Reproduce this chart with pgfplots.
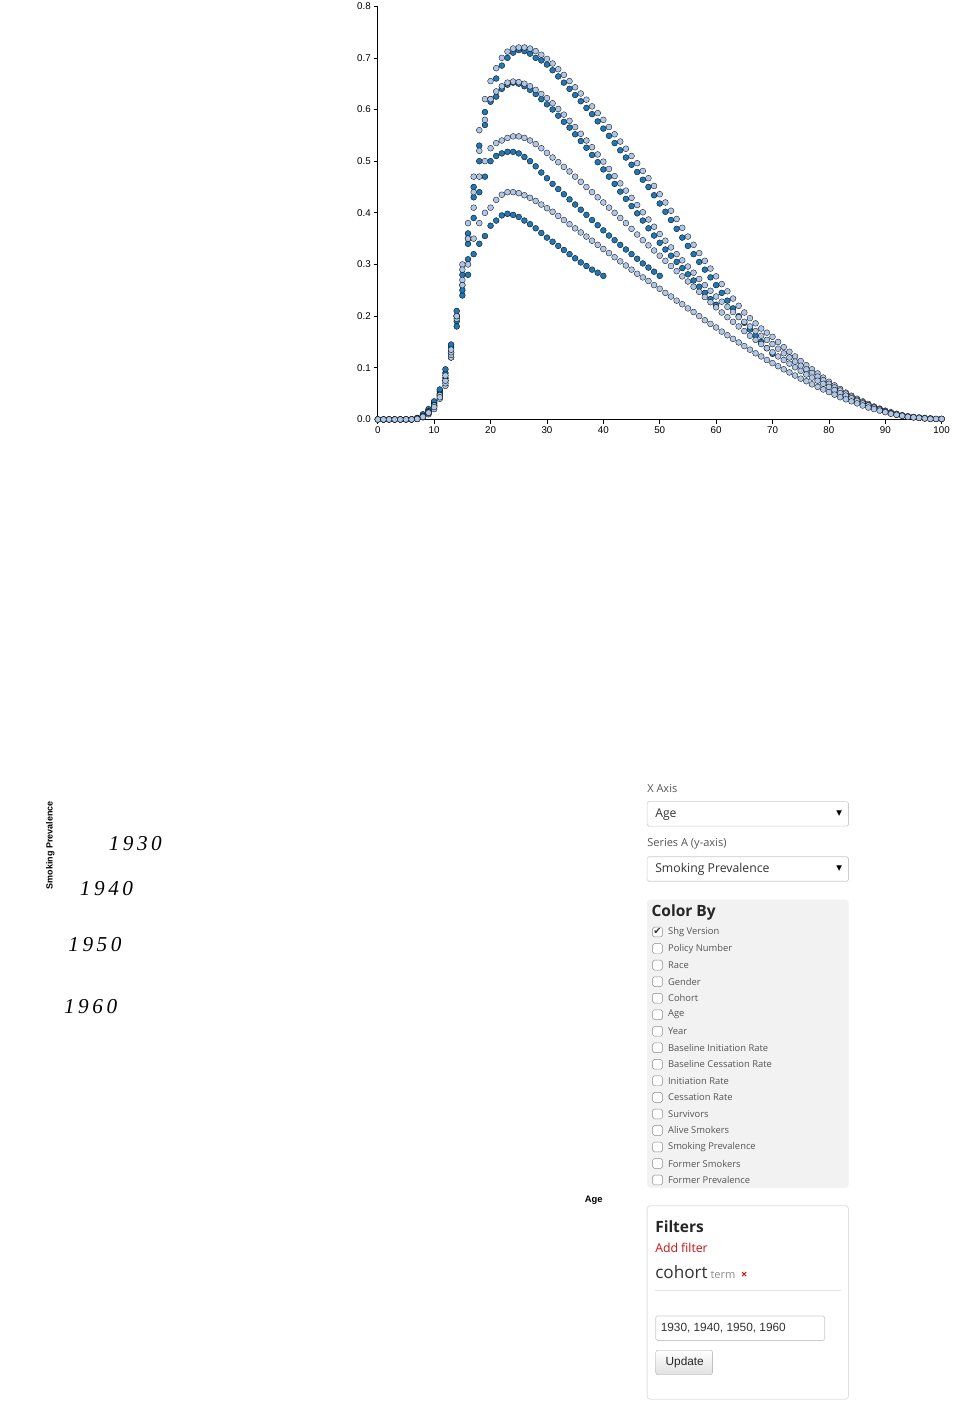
\documentclass[border=0pt]{standalone}
\usepackage{pgfplots}
\pgfplotsset{compat=1.18}
\usepackage{fontspec}
\setmainfont{Open Sans}
\newfontfamily\tickfont{Liberation Sans}
\newfontfamily\symfont{DejaVu Sans}
\newfontfamily\yearfont{Liberation Serif}
\definecolor{dk}{HTML}{1F77B4}
\definecolor{lt}{HTML}{AEC7E8}
\definecolor{txt}{HTML}{555555}
\definecolor{panel}{HTML}{F3F2F2}
\definecolor{bord}{HTML}{CCCCCC}
\definecolor{redc}{HTML}{CC1111}
\begin{document}
\begin{tikzpicture}[x=0.75pt,y=-0.75pt]
\path[fill=white] (0,0) rectangle (1409,1024);
\begin{axis}[at={(67,702)},anchor=origin,scale only axis,
  width=690.75pt,height=506.25pt,xmin=0,xmax=100,ymin=0,ymax=0.8,
  axis lines=left,axis line style={-,line width=1pt},clip=false,
  xtick={0,10,...,100},ytick={0,0.1,...,0.8},
  tick style={black,line width=0.8pt},tick align=outside,major tick length=5pt,
  yticklabel style={/pgf/number format/.cd,fixed,fixed zerofill,precision=1},
  ticklabel style={font=\tickfont\fontsize{12}{14}\selectfont},
  /pgf/number format/assume math mode=true,
  every axis plot/.append style={only marks,mark=*,mark size=3.6pt},
]
\addplot[mark options={draw=none,fill=dk}] table[row sep=\\]{x y\\ 0 0\\1 0\\2 0\\3 0\\4 0\\5 0\\6 0\\7 0.002\\8 0.006\\9 0.015\\10 0.03\\11 0.05\\12 0.08\\13 0.13\\14 0.19\\15 0.28\\16 0.36\\17 0.45\\18 0.53\\19 0.595\\20 0.62\\21 0.66\\22 0.685\\23 0.70\\24 0.71\\25 0.715\\26 0.713\\27 0.708\\28 0.70\\29 0.695\\30 0.687\\31 0.676\\32 0.664\\33 0.652\\34 0.640\\35 0.628\\36 0.616\\37 0.603\\38 0.591\\39 0.577\\40 0.563\\41 0.549\\42 0.535\\43 0.521\\44 0.507\\45 0.493\\46 0.479\\47 0.464\\48 0.450\\49 0.434\\50 0.418\\51 0.402\\52 0.386\\53 0.369\\54 0.352\\55 0.336\\56 0.320\\57 0.305\\58 0.290\\59 0.275\\60 0.260\\61 0.245\\62 0.230\\63 0.215\\64 0.200\\65 0.187\\66 0.174\\67 0.162\\68 0.150\\69 0.138\\70 0.127\\};
\addplot[mark options={draw=none,fill=dk}] table[row sep=\\]{x y\\ 0 0\\1 0\\2 0\\3 0\\4 0\\5 0\\6 0\\7 0.002\\8 0.008\\9 0.018\\10 0.033\\11 0.055\\12 0.09\\13 0.14\\14 0.20\\15 0.26\\16 0.34\\17 0.43\\18 0.50\\19 0.57\\20 0.615\\21 0.625\\22 0.64\\23 0.648\\24 0.652\\25 0.65\\26 0.645\\27 0.638\\28 0.630\\29 0.620\\30 0.610\\31 0.600\\32 0.588\\33 0.576\\34 0.565\\35 0.552\\36 0.539\\37 0.526\\38 0.512\\39 0.498\\40 0.484\\41 0.470\\42 0.456\\43 0.441\\44 0.427\\45 0.413\\46 0.399\\47 0.385\\48 0.370\\49 0.356\\50 0.342\\51 0.329\\52 0.317\\53 0.305\\54 0.293\\55 0.281\\56 0.269\\57 0.257\\58 0.245\\59 0.233\\60 0.222\\};
\addplot[mark options={draw=none,fill=dk}] table[row sep=\\]{x y\\ 0 0\\1 0\\2 0\\3 0\\4 0\\5 0\\6 0\\7 0.003\\8 0.01\\9 0.02\\10 0.035\\11 0.058\\12 0.097\\13 0.145\\14 0.21\\15 0.24\\16 0.31\\17 0.39\\18 0.44\\19 0.47\\20 0.50\\21 0.51\\22 0.515\\23 0.518\\24 0.518\\25 0.515\\26 0.508\\27 0.500\\28 0.490\\29 0.478\\30 0.467\\31 0.456\\32 0.446\\33 0.436\\34 0.426\\35 0.416\\36 0.406\\37 0.396\\38 0.386\\39 0.376\\40 0.366\\41 0.356\\42 0.347\\43 0.338\\44 0.329\\45 0.320\\46 0.311\\47 0.302\\48 0.294\\49 0.286\\50 0.278\\};
\addplot[mark options={draw=none,fill=dk}] table[row sep=\\]{x y\\ 0 0\\1 0\\2 0\\3 0\\4 0\\5 0\\6 0\\7 0.002\\8 0.007\\9 0.016\\10 0.028\\11 0.048\\12 0.075\\13 0.12\\14 0.18\\15 0.25\\16 0.28\\17 0.32\\18 0.34\\19 0.355\\20 0.375\\21 0.385\\22 0.395\\23 0.398\\24 0.396\\25 0.392\\26 0.385\\27 0.378\\28 0.370\\29 0.361\\30 0.352\\31 0.344\\32 0.336\\33 0.328\\34 0.320\\35 0.312\\36 0.304\\37 0.297\\38 0.290\\39 0.284\\40 0.278\\};
\addplot[mark options={draw=none,fill=lt}] table[row sep=\\]{x y\\ 0 0\\1 0\\2 0\\3 0\\4 0\\5 0\\6 0\\7 0.001\\8 0.004\\9 0.01\\10 0.02\\11 0.04\\12 0.065\\13 0.12\\14 0.20\\15 0.30\\16 0.38\\17 0.47\\18 0.56\\19 0.62\\20 0.655\\21 0.68\\22 0.70\\23 0.712\\24 0.718\\25 0.72\\26 0.72\\27 0.718\\28 0.713\\29 0.706\\30 0.698\\31 0.689\\32 0.678\\33 0.667\\34 0.655\\35 0.643\\36 0.631\\37 0.619\\38 0.606\\39 0.593\\40 0.580\\41 0.566\\42 0.552\\43 0.538\\44 0.524\\45 0.510\\46 0.496\\47 0.481\\48 0.467\\49 0.452\\50 0.436\\51 0.420\\52 0.404\\53 0.388\\54 0.371\\55 0.354\\56 0.338\\57 0.322\\58 0.307\\59 0.292\\60 0.277\\61 0.262\\62 0.248\\63 0.234\\64 0.220\\65 0.207\\66 0.196\\67 0.186\\68 0.176\\69 0.168\\70 0.160\\71 0.150\\72 0.140\\73 0.131\\74 0.122\\75 0.113\\76 0.105\\77 0.097\\78 0.089\\79 0.081\\80 0.073\\81 0.066\\82 0.059\\83 0.052\\84 0.046\\85 0.040\\86 0.035\\87 0.030\\88 0.025\\89 0.021\\90 0.017\\91 0.014\\92 0.011\\93 0.008\\94 0.006\\95 0.005\\96 0.004\\97 0.003\\98 0.002\\99 0.001\\100 0.001\\};
\addplot[mark options={draw=none,fill=lt}] table[row sep=\\]{x y\\ 0 0\\1 0\\2 0\\3 0\\4 0\\5 0\\6 0\\7 0.001\\8 0.005\\9 0.012\\10 0.025\\11 0.045\\12 0.07\\13 0.125\\14 0.195\\15 0.29\\16 0.35\\17 0.44\\18 0.52\\19 0.58\\20 0.62\\21 0.635\\22 0.645\\23 0.652\\24 0.654\\25 0.653\\26 0.65\\27 0.645\\28 0.638\\29 0.630\\30 0.622\\31 0.612\\32 0.601\\33 0.590\\34 0.578\\35 0.566\\36 0.553\\37 0.540\\38 0.527\\39 0.513\\40 0.499\\41 0.485\\42 0.471\\43 0.457\\44 0.443\\45 0.429\\46 0.415\\47 0.401\\48 0.387\\49 0.373\\50 0.359\\51 0.346\\52 0.333\\53 0.320\\54 0.308\\55 0.296\\56 0.284\\57 0.272\\58 0.260\\59 0.249\\60 0.238\\61 0.228\\62 0.218\\63 0.208\\64 0.198\\65 0.189\\66 0.180\\67 0.171\\68 0.162\\69 0.154\\70 0.146\\71 0.137\\72 0.128\\73 0.120\\74 0.112\\75 0.104\\76 0.097\\77 0.090\\78 0.083\\79 0.076\\80 0.069\\81 0.062\\82 0.056\\83 0.050\\84 0.044\\85 0.038\\86 0.033\\87 0.028\\88 0.024\\89 0.020\\90 0.016\\91 0.013\\92 0.010\\93 0.008\\94 0.006\\95 0.004\\96 0.003\\97 0.002\\98 0.002\\99 0.001\\100 0.001\\};
\addplot[mark options={draw=none,fill=lt}] table[row sep=\\]{x y\\ 0 0\\1 0\\2 0\\3 0\\4 0\\5 0\\6 0\\7 0.001\\8 0.006\\9 0.014\\10 0.027\\11 0.047\\12 0.075\\13 0.13\\14 0.20\\15 0.27\\16 0.35\\17 0.41\\18 0.47\\19 0.50\\20 0.525\\21 0.535\\22 0.54\\23 0.545\\24 0.548\\25 0.548\\26 0.545\\27 0.540\\28 0.533\\29 0.525\\30 0.516\\31 0.507\\32 0.498\\33 0.489\\34 0.480\\35 0.470\\36 0.460\\37 0.450\\38 0.440\\39 0.430\\40 0.420\\41 0.410\\42 0.400\\43 0.390\\44 0.380\\45 0.369\\46 0.358\\47 0.347\\48 0.337\\49 0.327\\50 0.317\\51 0.307\\52 0.297\\53 0.287\\54 0.277\\55 0.267\\56 0.257\\57 0.247\\58 0.237\\59 0.227\\60 0.217\\61 0.207\\62 0.198\\63 0.189\\64 0.180\\65 0.171\\66 0.162\\67 0.154\\68 0.146\\69 0.138\\70 0.130\\71 0.122\\72 0.115\\73 0.108\\74 0.101\\75 0.094\\76 0.087\\77 0.081\\78 0.075\\79 0.069\\80 0.063\\81 0.057\\82 0.051\\83 0.046\\84 0.041\\85 0.036\\86 0.031\\87 0.027\\88 0.023\\89 0.019\\90 0.015\\91 0.012\\92 0.009\\93 0.007\\94 0.005\\95 0.004\\96 0.003\\97 0.002\\98 0.001\\99 0.001\\100 0.001\\};
\addplot[mark options={draw=none,fill=lt}] table[row sep=\\]{x y\\ 0 0\\1 0\\2 0\\3 0\\4 0\\5 0\\6 0\\7 0.001\\8 0.005\\9 0.013\\10 0.024\\11 0.043\\12 0.085\\13 0.135\\14 0.2\\15 0.26\\16 0.30\\17 0.35\\18 0.38\\19 0.40\\20 0.41\\21 0.425\\22 0.435\\23 0.44\\24 0.44\\25 0.438\\26 0.434\\27 0.429\\28 0.423\\29 0.416\\30 0.409\\31 0.402\\32 0.394\\33 0.386\\34 0.378\\35 0.370\\36 0.362\\37 0.354\\38 0.346\\39 0.338\\40 0.330\\41 0.322\\42 0.314\\43 0.306\\44 0.298\\45 0.290\\46 0.282\\47 0.275\\48 0.268\\49 0.260\\50 0.253\\51 0.245\\52 0.238\\53 0.230\\54 0.223\\55 0.215\\56 0.208\\57 0.200\\58 0.192\\59 0.185\\60 0.178\\61 0.170\\62 0.163\\63 0.156\\64 0.149\\65 0.142\\66 0.135\\67 0.128\\68 0.122\\69 0.115\\70 0.109\\71 0.103\\72 0.097\\73 0.091\\74 0.085\\75 0.079\\76 0.074\\77 0.068\\78 0.063\\79 0.058\\80 0.053\\81 0.048\\82 0.043\\83 0.039\\84 0.035\\85 0.031\\86 0.027\\87 0.023\\88 0.020\\89 0.017\\90 0.014\\91 0.011\\92 0.009\\93 0.007\\94 0.005\\95 0.004\\96 0.003\\97 0.002\\98 0.001\\99 0.001\\100 0.001\\};
\end{axis}
% axis titles
\node[rotate=90,anchor=east,font=\tickfont\bfseries\fontsize{11}{13}\selectfont] at (82,27) {Smoking Prevalence};
\node[anchor=south east,font=\tickfont\bfseries\fontsize{11.5}{13}\selectfont] at (989,694) {Age};
% cohort labels
\node[font=\yearfont\itshape\fontsize{26}{30}\selectfont] at (221,100) {1\,9\,3\,0};
\node[font=\yearfont\itshape\fontsize{26}{30}\selectfont] at (174,174) {1\,9\,4\,0};
\node[font=\yearfont\itshape\fontsize{26}{30}\selectfont] at (155,266) {1\,9\,5\,0};
\node[font=\yearfont\itshape\fontsize{26}{30}\selectfont] at (148,366) {1\,9\,6\,0};
% right panel
\begin{scope}[every node/.style={anchor=west,text=txt,inner sep=0pt}]
\node[font=\fontsize{13.5}{16}\selectfont] at (1057,11) {X Axis};
\draw[bord,line width=0.8pt,rounded corners=2pt,fill=white] (1057,32) rectangle (1386,72);
\node[font=\fontsize{15}{18}\selectfont,text=black!80] at (1070,53) {Age};
\node[font=\symfont\fontsize{9}{10}\selectfont,text=black] at (1366,51) {▼};
\node[font=\fontsize{13.5}{16}\selectfont] at (1057,101) {Series A (y-axis)};
\draw[bord,line width=0.8pt,rounded corners=2pt,fill=white] (1057,122) rectangle (1386,162);
\node[font=\fontsize{15}{18}\selectfont,text=black!80] at (1070,143) {Smoking Prevalence};
\node[font=\symfont\fontsize{9}{10}\selectfont,text=black] at (1366,141) {▼};
\fill[panel,rounded corners=4pt] (1057,192) rectangle (1386,663);
\node[font=\bfseries\fontsize{19}{22}\selectfont,text=black!85] at (1064,213) {Color By};
\foreach \t [count=\i from 0] in {Shg Version,Policy Number,Race,Gender,Cohort,Age,Year,Baseline Initiation Rate,Baseline Cessation Rate,Initiation Rate,Cessation Rate,Survivors,Alive Smokers,Smoking Prevalence,Former Smokers,Former Prevalence}{
  \pgfmathsetmacro\yy{245+27*\i}
  \draw[black!45,line width=0.6pt,rounded corners=2pt,fill=white] (1066,\yy-8) rectangle (1082,\yy+8);
  \node[font=\fontsize{11.5}{14}\selectfont] at (1091,\yy) {\t};
}
\node[font=\symfont\fontsize{12}{14}\selectfont,text=black!80] at (1067,244) {✔};
\draw[black!12,line width=1pt,rounded corners=4pt,fill=white] (1057,692) rectangle (1386,1008);
\node[font=\bfseries\fontsize{19}{22}\selectfont,text=black!85] at (1070,726) {Filters};
\node[font=\fontsize{15}{18}\selectfont,text=redc] at (1070,760) {Add filter};
\node[font=\fontsize{21}{24}\selectfont,text=black!80] at (1070,801) {cohort\,{\fontsize{13.5}{16}\selectfont\color{black!45}term}\hspace{7pt}{\fontsize{13.5}{16}\selectfont\color{redc}\textbf{×}}};
\draw[black!10,line width=0.8pt] (1070,830) -- (1373,830);
\draw[bord,line width=0.8pt,rounded corners=2pt,fill=white] (1071,872) rectangle (1347,912);
\node[font=\tickfont\fontsize{14.5}{17}\selectfont,text=black!80] at (1079,892) {1930, 1940, 1950, 1960};
\shade[top color=white,bottom color=black!12,rounded corners=3pt,draw=black!35] (1071,928) rectangle (1164,968);
\node[font=\tickfont\fontsize{14.5}{17}\selectfont,text=black!85] at (1087,948) {Update};
\end{scope}
\end{tikzpicture}
\end{document}
